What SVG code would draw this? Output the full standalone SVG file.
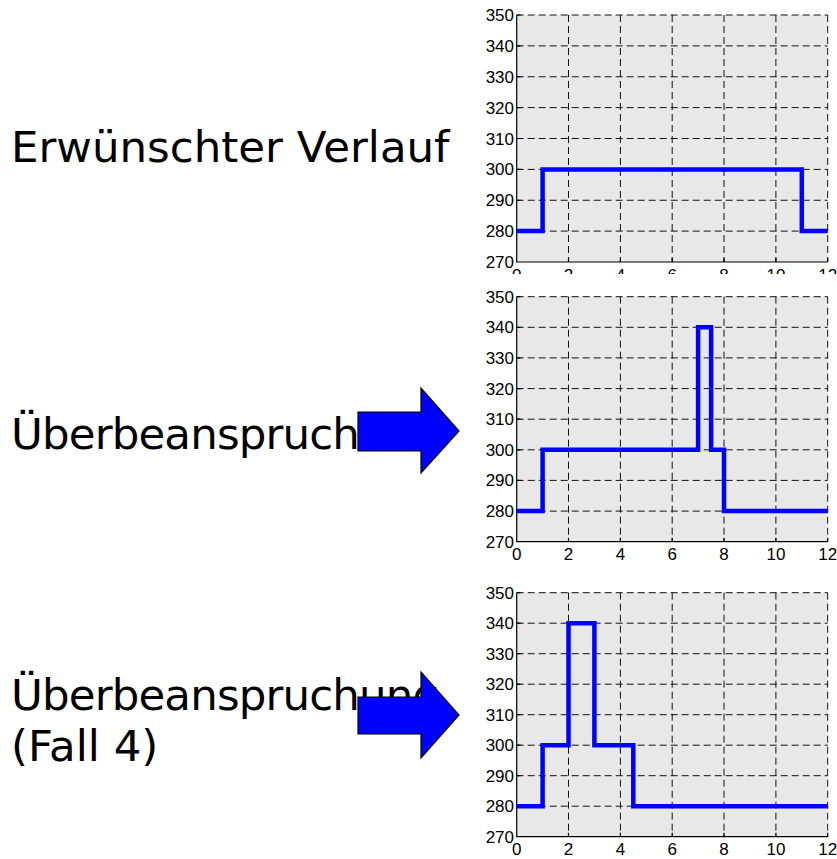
<svg xmlns="http://www.w3.org/2000/svg" width="837" height="859" viewBox="0 0 837 859">
<style>
.lbl{font-family:"DejaVu Sans",Verdana,sans-serif;font-size:43.5px;fill:#000}
.tight{letter-spacing:-0.85px}
.tk{font-family:"Liberation Sans",Arial,sans-serif;font-size:17px;fill:#000}
.yl{text-anchor:end}
.xl{text-anchor:middle}
.bg{fill:#e8e8e8;stroke:none}
.grid{stroke:#111;stroke-width:1;stroke-dasharray:7,4;fill:none}
.axis{stroke:#000;stroke-width:1.2;fill:none}
.data{stroke:#0000ff;stroke-width:4.5;fill:none;stroke-linejoin:miter;stroke-linecap:butt}
.arrow{fill:#0000ff;stroke:#000;stroke-width:1.2;stroke-linejoin:miter}
</style>
<defs>
<clipPath id="clipTop"><rect x="470" y="0" width="367" height="274"/></clipPath>
</defs>
<rect width="837" height="859" fill="#fff"/>

<g id="label1"><text class="lbl" x="11" y="162">Erwünschter Verlauf</text></g>
<g id="label2"><text class="lbl tight" x="11" y="449">Überbeanspruch</text></g>
<g id="label3"><text class="lbl tight" x="11" y="710">Überbeanspruchung</text><text class="lbl" x="11" y="761">(Fall 4)</text></g>

<g id="plot1">
<rect class="bg" x="516.7" y="15" width="311" height="247"/>
<path class="grid" d="M568.5,15V262M620.4,15V262M672.2,15V262M724,15V262M775.9,15V262M827.7,15V262M516.7,231.1H827.7M516.7,200.25H827.7M516.7,169.4H827.7M516.7,138.5H827.7M516.7,107.6H827.7M516.7,76.75H827.7M516.7,45.9H827.7M516.7,15H827.7"/>
<path class="axis" d="M516.7,15V262H827.7M516.7,231.1h4M516.7,200.25h4M516.7,169.4h4M516.7,138.5h4M516.7,107.6h4M516.7,76.75h4M516.7,45.9h4M516.7,15h4M568.5,262v-4M620.4,262v-4M672.2,262v-4M724,262v-4M775.9,262v-4M827.7,262v-4"/>
<path class="data" d="M516.7,231.1H542.6V169.4H801.8V231.1H827.7"/>
<g class="tk yl">
<text x="514" y="21">350</text><text x="514" y="51.9">340</text><text x="514" y="82.8">330</text><text x="514" y="113.6">320</text><text x="514" y="144.5">310</text><text x="514" y="175.4">300</text><text x="514" y="206.3">290</text><text x="514" y="237.1">280</text><text x="514" y="268">270</text>
</g>
<g class="tk xl" clip-path="url(#clipTop)">
<text x="516.7" y="280.5">0</text><text x="568.5" y="280.5">2</text><text x="620.4" y="280.5">4</text><text x="672.2" y="280.5">6</text><text x="724" y="280.5">8</text><text x="775.9" y="280.5">10</text><text x="827.7" y="280.5">12</text>
</g>
</g>

<g id="plot2">
<rect class="bg" x="516.7" y="296.7" width="311" height="245"/>
<path class="grid" d="M568.5,296.7V541.7M620.4,296.7V541.7M672.2,296.7V541.7M724,296.7V541.7M775.9,296.7V541.7M827.7,296.7V541.7M516.7,511.1H827.7M516.7,480.4H827.7M516.7,449.8H827.7M516.7,419.2H827.7M516.7,388.6H827.7M516.7,357.9H827.7M516.7,327.3H827.7M516.7,296.7H827.7"/>
<path class="axis" d="M516.7,296.7V541.7H827.7M516.7,511.1h4M516.7,480.4h4M516.7,449.8h4M516.7,419.2h4M516.7,388.6h4M516.7,357.9h4M516.7,327.3h4M516.7,296.7h4M568.5,541.7v-4M620.4,541.7v-4M672.2,541.7v-4M724,541.7v-4M775.9,541.7v-4M827.7,541.7v-4"/>
<path class="data" d="M516.7,511.1H542.6V449.8H698.1V327.3H711.1V449.8H724V511.1H827.7"/>
<g class="tk yl">
<text x="514" y="302.7">350</text><text x="514" y="333.3">340</text><text x="514" y="363.9">330</text><text x="514" y="394.6">320</text><text x="514" y="425.2">310</text><text x="514" y="455.8">300</text><text x="514" y="486.4">290</text><text x="514" y="517.1">280</text><text x="514" y="547.7">270</text>
</g>
<g class="tk xl">
<text x="516.7" y="560">0</text><text x="568.5" y="560">2</text><text x="620.4" y="560">4</text><text x="672.2" y="560">6</text><text x="724" y="560">8</text><text x="775.9" y="560">10</text><text x="827.7" y="560">12</text>
</g>
</g>

<g id="plot3">
<rect class="bg" x="516.7" y="592.7" width="311" height="244"/>
<path class="grid" d="M568.5,592.7V836.7M620.4,592.7V836.7M672.2,592.7V836.7M724,592.7V836.7M775.9,592.7V836.7M827.7,592.7V836.7M516.7,806.2H827.7M516.7,775.7H827.7M516.7,745.2H827.7M516.7,714.7H827.7M516.7,684.2H827.7M516.7,653.7H827.7M516.7,623.2H827.7M516.7,592.7H827.7"/>
<path class="axis" d="M516.7,592.7V836.7H827.7M516.7,806.2h4M516.7,775.7h4M516.7,745.2h4M516.7,714.7h4M516.7,684.2h4M516.7,653.7h4M516.7,623.2h4M516.7,592.7h4M568.5,836.7v-4M620.4,836.7v-4M672.2,836.7v-4M724,836.7v-4M775.9,836.7v-4M827.7,836.7v-4"/>
<path class="data" d="M516.7,806.2H542.6V745.2H568.5V623.2H594.4V745.2H633.3V806.2H827.7"/>
<g class="tk yl">
<text x="514" y="598.7">350</text><text x="514" y="629.2">340</text><text x="514" y="659.7">330</text><text x="514" y="690.2">320</text><text x="514" y="720.7">310</text><text x="514" y="751.2">300</text><text x="514" y="781.7">290</text><text x="514" y="812.2">280</text><text x="514" y="842.7">270</text>
</g>
<g class="tk xl">
<text x="516.7" y="855">0</text><text x="568.5" y="855">2</text><text x="620.4" y="855">4</text><text x="672.2" y="855">6</text><text x="724" y="855">8</text><text x="775.9" y="855">10</text><text x="827.7" y="855">12</text>
</g>
</g>

<g id="connectors">
<path id="arrow1" class="arrow" d="M358,412H421V388L459,431L421,473V451H358Z"/>
<path id="arrow2" class="arrow" d="M358,697H421V672L459,715L421,758V734H358Z"/>
</g>
</svg>
